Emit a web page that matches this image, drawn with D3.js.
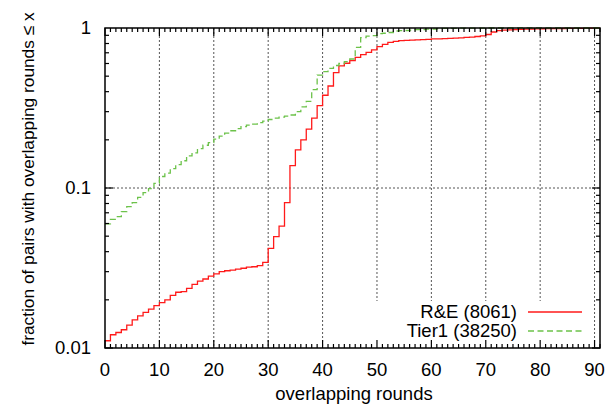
<!DOCTYPE html>
<meta charset='utf-8'>
<style>

body {
  margin: 0;
  background: #fff;
}

svg text {
  font-family: 'Liberation Sans', Arial, sans-serif;
  font-size: 18.5px;
  fill: #000;
}

.grid line {
  stroke: #555;
  stroke-width: 1;
  stroke-dasharray: 2,2;
}

.tick-mark {
  stroke: #000;
  stroke-width: 1.2;
}

</style>
<svg width='607' height='409'></svg>

<script src='https://d3js.org/d3.v7.min.js'></script>

<script>

// CDF values, index = overlapping rounds (0..91)
var reValues = [
  0.0111, 0.0121, 0.0125, 0.0130, 0.0139, 0.0150, 0.0159, 0.0167, 0.0175, 0.0184,
  0.0192, 0.0200, 0.0213, 0.0223, 0.0225, 0.0236, 0.0250, 0.0262, 0.0270, 0.0281,
  0.0291, 0.0300, 0.0304, 0.0307, 0.0311, 0.0315, 0.0320, 0.0322, 0.0327, 0.0343,
  0.0420, 0.0497, 0.0578, 0.0810, 0.138, 0.173, 0.200, 0.233, 0.273, 0.327,
  0.380, 0.434, 0.526, 0.579, 0.602, 0.625, 0.656, 0.681, 0.705, 0.729,
  0.764, 0.791, 0.814, 0.826, 0.833, 0.838, 0.841, 0.844, 0.846, 0.849,
  0.854, 0.856, 0.859, 0.861, 0.865, 0.868, 0.873, 0.878, 0.885, 0.894,
  0.911, 0.944, 0.962, 0.969, 0.973, 0.977, 0.981, 0.984, 0.986, 0.987,
  0.989, 0.990, 0.991, 0.992, 0.993, 0.994, 0.995, 0.996, 0.997, 0.998,
  0.999, 1.0
];

var tier1Values = [
  0.0596, 0.0637, 0.0662, 0.0711, 0.0764, 0.0810, 0.0875, 0.0935, 0.0990, 0.107,
  0.118, 0.124, 0.132, 0.140, 0.148, 0.159, 0.166, 0.176, 0.185, 0.192,
  0.202, 0.211, 0.220, 0.228, 0.235, 0.242, 0.247, 0.251, 0.256, 0.262,
  0.268, 0.273, 0.277, 0.281, 0.286, 0.300, 0.321, 0.348, 0.412, 0.508,
  0.533, 0.560, 0.583, 0.600, 0.616, 0.640, 0.757, 0.870, 0.889, 0.895,
  0.921, 0.927, 0.937, 0.958, 0.962, 0.965, 0.969, 0.976, 0.979, 0.983,
  0.986, 0.990, 0.994, 0.995, 0.996, 0.997, 0.998, 0.998, 0.999, 0.999,
  1.0, 1.0, 1.0, 1.0, 1.0, 1.0, 1.0, 1.0, 1.0, 1.0,
  1.0, 1.0, 1.0, 1.0, 1.0, 1.0, 1.0, 1.0, 1.0, 1.0,
  1.0, 1.0
];

var seriesNames = ['R&E (8061)', 'Tier1 (38250)'];
var seriesColors = ['#ff1a1a', '#6cc24a'];
var seriesDash = [null, '6,3.5'];

var xTicks = [0, 10, 20, 30, 40, 50, 60, 70, 80, 90];
var yTicks = [0.01, 0.1, 1];
var yTickLabels = ['0.01', '0.1', '1'];

var svg = d3.select('svg'),
    plotLeft = 105,
    plotRight = 600,
    plotTop = 28,
    plotBottom = 348;

var x = d3.scaleLinear().domain([0, 91]).range([plotLeft, plotRight]);
var y = d3.scaleLog().domain([0.01, 1]).range([plotBottom, plotTop]);

// grid
var grid = svg.append('g').attr('class', 'grid');
grid.selectAll('line.gx')
    .data(xTicks.filter(function(d) { return d > 0; }))
    .enter()
    .append('line')
    .attr('x1', function(d) { return x(d); })
    .attr('x2', function(d) { return x(d); })
    .attr('y1', plotTop)
    .attr('y2', plotBottom);
grid.append('line')
    .attr('x1', plotLeft).attr('x2', plotRight)
    .attr('y1', y(0.1)).attr('y2', y(0.1));

// data
svg.append('clipPath').attr('id', 'clip')
    .append('rect')
    .attr('x', plotLeft).attr('y', plotTop - 1)
    .attr('width', plotRight - plotLeft).attr('height', plotBottom - plotTop + 1);

var line = d3.line()
    .x(function(d, i) { return x(i); })
    .y(function(d) { return y(d); })
    .curve(d3.curveStepAfter);

[reValues, tier1Values].forEach(function(vals, k) {
  svg.append('path')
      .datum(vals)
      .attr('clip-path', 'url(#clip)')
      .attr('fill', 'none')
      .attr('stroke', seriesColors[k])
      .attr('stroke-width', 1.3)
      .attr('stroke-dasharray', seriesDash[k])
      .attr('d', line);
});

// key (opaque box, like gnuplot)
svg.append('rect')
    .attr('x', 366).attr('y', 301)
    .attr('width', 223).attr('height', 45)
    .attr('fill', '#fff');

seriesNames.forEach(function(name, k) {
  var ky = 312 + k * 19;
  svg.append('text')
      .attr('x', 517)
      .attr('y', ky)
      .attr('dy', '0.35em')
      .attr('text-anchor', 'end')
      .text(name);
  svg.append('line')
      .attr('x1', 528).attr('x2', 582)
      .attr('y1', ky).attr('y2', ky)
      .attr('stroke', seriesColors[k])
      .attr('stroke-width', 1.3)
      .attr('stroke-dasharray', seriesDash[k]);
});

// ticks: x major + minor, mirrored on top
var ticks = svg.append('g');
d3.range(0, 92).forEach(function(v) {
  var len = (v % 10 === 0) ? 8 : 4;
  ticks.append('line').attr('class', 'tick-mark')
      .attr('x1', x(v)).attr('x2', x(v))
      .attr('y1', plotBottom).attr('y2', plotBottom - len);
  ticks.append('line').attr('class', 'tick-mark')
      .attr('x1', x(v)).attr('x2', x(v))
      .attr('y1', plotTop).attr('y2', plotTop + len);
});

// y ticks, log minor
[0.01, 0.1].forEach(function(dec) {
  d3.range(1, 10).forEach(function(m) {
    var v = dec * m;
    var len = (m === 1) ? 8 : 4;
    ticks.append('line').attr('class', 'tick-mark')
        .attr('x1', plotLeft).attr('x2', plotLeft + len)
        .attr('y1', y(v)).attr('y2', y(v));
    ticks.append('line').attr('class', 'tick-mark')
        .attr('x1', plotRight).attr('x2', plotRight - len)
        .attr('y1', y(v)).attr('y2', y(v));
  });
});

// border
svg.append('rect')
    .attr('x', plotLeft).attr('y', plotTop)
    .attr('width', plotRight - plotLeft).attr('height', plotBottom - plotTop)
    .attr('fill', 'none')
    .attr('stroke', '#000')
    .attr('stroke-width', 1.5);

// tick labels
svg.selectAll('text.xl')
    .data(xTicks)
    .enter()
    .append('text')
    .attr('class', 'xl')
    .attr('x', function(d) { return x(d); })
    .attr('y', 376)
    .attr('text-anchor', 'middle')
    .text(function(d) { return d; });

svg.selectAll('text.yl')
    .data(yTicks)
    .enter()
    .append('text')
    .attr('class', 'yl')
    .attr('x', 91)
    .attr('y', function(d) { return y(d); })
    .attr('dy', '0.35em')
    .attr('text-anchor', 'end')
    .text(function(d, i) { return yTickLabels[i]; });

// axis titles
svg.append('text')
    .attr('x', 354)
    .attr('y', 400)
    .attr('text-anchor', 'middle')
    .text('overlapping rounds');

svg.append('text')
    .attr('transform', 'translate(34,179) rotate(-90)')
    .attr('text-anchor', 'middle')
    .style('font-size', '17.3px')
    .text('fraction of pairs with overlapping rounds \u2264 x');

</script>
